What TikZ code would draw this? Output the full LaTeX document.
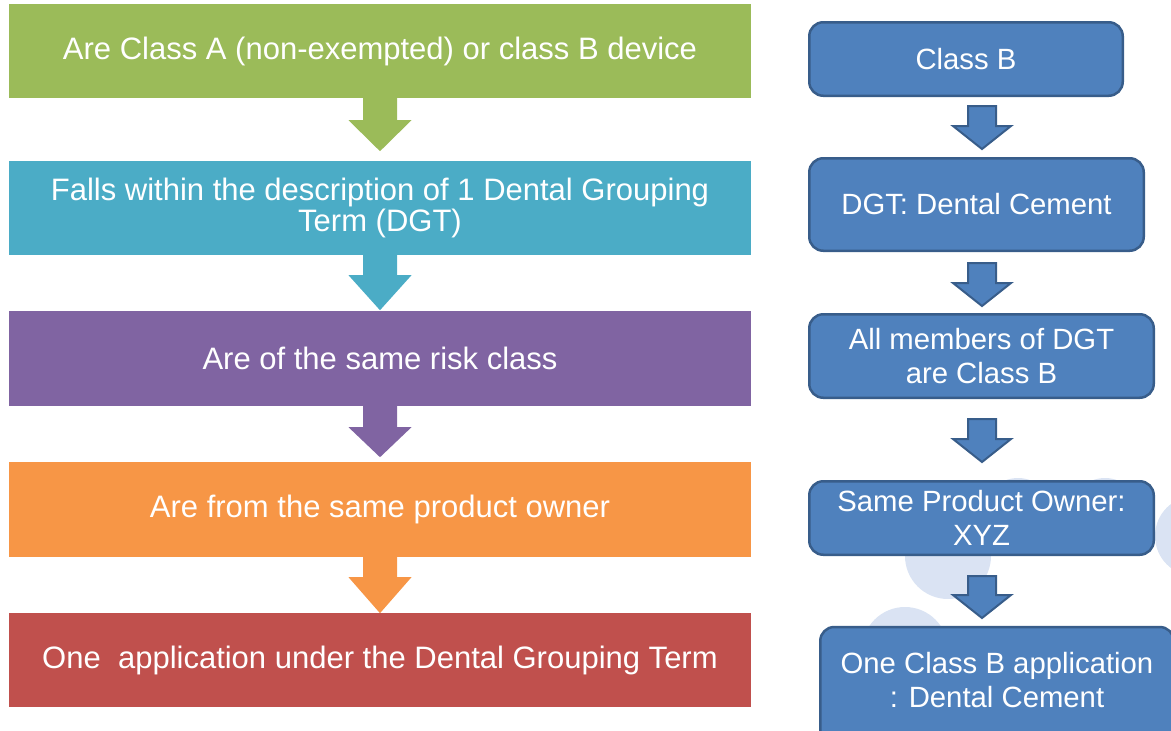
\documentclass[tikz,border=0pt]{standalone}
\usepackage{fontspec}
\setmainfont{Liberation Sans}
\usetikzlibrary{calc}
\definecolor{cgreen}{HTML}{9BBB59}
\definecolor{cteal}{HTML}{4BACC6}
\definecolor{cpurple}{HTML}{8064A2}
\definecolor{corange}{HTML}{F79646}
\definecolor{cred}{HTML}{C0504D}
\definecolor{cblue}{HTML}{4F81BD}
\definecolor{cborder}{HTML}{385D8A}
\definecolor{ccirc}{HTML}{DAE3F3}
\newcommand{\blkarrowL}[4]{\fill[#1] ($(#2.south)+(-17,0)$) -- ($(#2.south)+(-17,#3)$) -- ($(#2.south)+(-31.5,#3)$) -- ($(#2.south)+(0,#4)$) -- ($(#2.south)+(31.5,#3)$) -- ($(#2.south)+(17,#3)$) -- ($(#2.south)+(17,0)$) -- cycle;}
\newcommand{\blkarrowR}[4]{\draw[rarrow] ($(#1.south -| axr)+(-14,#2)$) -- ($(#1.south -| axr)+(-14,#3)$) -- ($(#1.south -| axr)+(-29,#3)$) -- ($(#1.south -| axr)+(0,#4)$) -- ($(#1.south -| axr)+(29,#3)$) -- ($(#1.south -| axr)+(14,#3)$) -- ($(#1.south -| axr)+(14,#2)$) -- cycle;}
\begin{document}
\begin{tikzpicture}[x=1pt,y=-1pt,
  lbox/.style={rectangle, minimum width=742pt, minimum height=94pt, inner sep=0pt, text=white, font=\fontsize{31}{31}\selectfont, align=center},
  rbox/.style={rectangle, rounded corners=14pt, fill=cblue, draw=cborder, line width=2.5pt, text=white, inner sep=0pt, font=\fontsize{29.3}{34}\selectfont, align=center},
  rtext/.style={text=white, inner sep=0pt, font=\fontsize{29.3}{34}\selectfont, align=center},
  rarrow/.style={fill=cblue, draw=cborder, line width=2pt, line join=miter},
  bgcirc/.style={fill=ccirc}]
\useasboundingbox (0,0) rectangle (1171,731);
% background circles
\fill[bgcirc] (948,556) circle[radius=43pt];
\fill[bgcirc] (905,650) circle[radius=43pt];
\fill[bgcirc] (1195,536) circle[radius=40pt];
\fill[bgcirc] (1018,513) circle[radius=35pt];
\fill[bgcirc] (1105,513) circle[radius=35pt];
% left column
\node[lbox, fill=cgreen] (n1) at (380,51) {Are Class A (non-exempted) or class B device};
\node[lbox, fill=cteal] (n2) at (380,208) {Falls within the description of 1 Dental Grouping\\Term (DGT)};
\node[lbox, fill=cpurple, minimum height=95pt] (n3) at (380,358.5) {Are of the same risk class};
\node[lbox, fill=corange, minimum height=95pt] (n4) at (380,509.5) {Are from the same product owner};
\node[lbox, fill=cred] (n5) at (380,660) {One~ application under the Dental Grouping Term};
\blkarrowL{cgreen}{n1}{22}{53}
\blkarrowL{cteal}{n2}{20}{55}
\blkarrowL{cpurple}{n3}{21}{51}
\blkarrowL{corange}{n4}{20}{56}
% right column
\coordinate (axr) at (982,0);
\node[rbox, minimum width=313.5pt, minimum height=73.5pt] (r1) at (966,59) {Class B};
\node[rbox, minimum width=334.5pt, minimum height=92.5pt] (r2) at (976.5,204.5) {DGT: Dental Cement};
\node[rbox, minimum width=344.5pt, minimum height=83.5pt] (r3) at (981.5,356) {All members of DGT\\are Class B};
\node[rbox, minimum width=344.5pt, minimum height=73.5pt] (r4) at (981.5,518) {Same Product Owner:\\XYZ};
\node[rbox, minimum width=353.5pt, minimum height=122pt] (r5) at (997,688) {};
\node[rtext] (r5t) at (997,680.5) {One Class B application\\: Dental Cement};
\blkarrowR{r1}{9}{29}{52}
\blkarrowR{r2}{11}{31}{54}
\blkarrowR{r3}{20}{40}{63}
\blkarrowR{r4}{20}{39}{62}
\end{tikzpicture}
\end{document}
